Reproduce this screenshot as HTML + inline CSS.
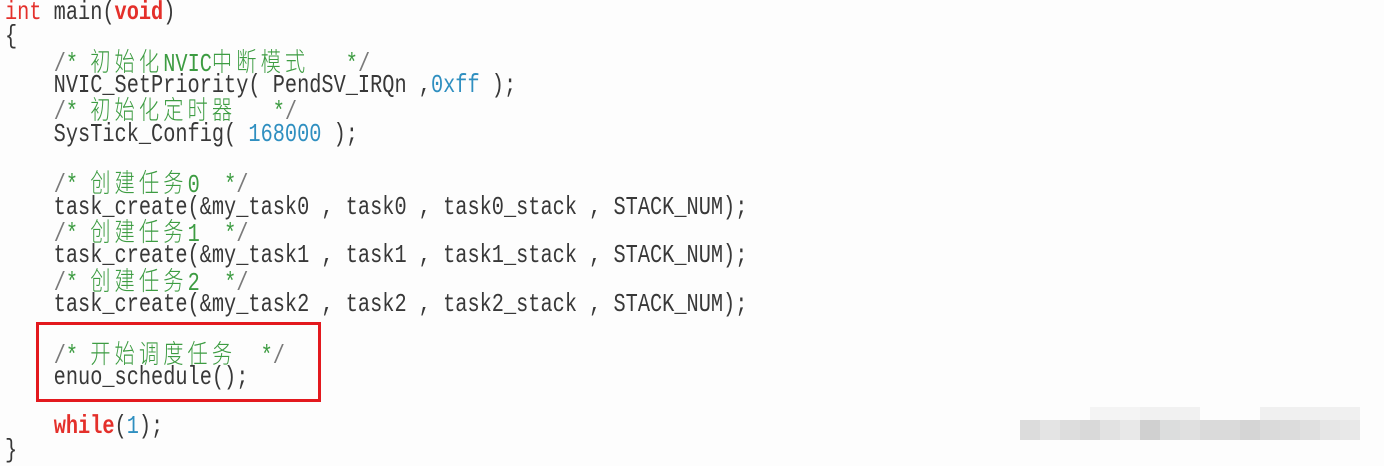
<!DOCTYPE html>
<html>
<head>
<meta charset="utf-8">
<style>
  html, body { margin:0; padding:0; }
  body { width:1384px; height:466px; background:#fdfdfd; position:relative; overflow:hidden; }
  .ln { position:absolute; left:5px; height:24.33px; line-height:24.33px; font-family:"Liberation Mono", monospace; font-size:26px; white-space:pre; color:#383838; transform:scaleX(0.78); transform-origin:0 0; }
  .r { color:#e4302b; }
  .rb { color:#e4302b; font-weight:bold; }
  .g { color:#3d9c42; }
  .s { color:#7a7a7a; }
  .n { color:#2f8fc0; }
  .c { font-family:"Noto Sans CJK SC", "WenQuanYi Zen Hei", sans-serif; font-size:26px; letter-spacing:5.2px; font-weight:300; }
  .box { position:absolute; left:36px; top:322px; width:279px; height:74px; border:3px solid #e3191e; }
  .wm { position:absolute; height:20px; top:420px; width:20px; }
  .wu { position:absolute; height:13px; top:407px; }
</style>
</head>
<body>
<div class="ln" style="top:0px"><span class="r">int</span> main(<span class="rb">void</span>)</div>
<div class="ln" style="top:24.33px">{</div>
<div class="ln" style="top:48.67px">    <span class="g"><span class="s">/</span>* <span class="c">初始化</span>NVIC<span class="c">中断模式</span>   *<span class="s">/</span></span></div>
<div class="ln" style="top:73px">    NVIC_SetPriority( PendSV_IRQn ,<span class="n">0xff</span> );</div>
<div class="ln" style="top:97.33px">    <span class="g"><span class="s">/</span>* <span class="c">初始化定时器</span>   *<span class="s">/</span></span></div>
<div class="ln" style="top:121.67px">    SysTick_Config( <span class="n">168000</span> );</div>
<div class="ln" style="top:170.33px">    <span class="g"><span class="s">/</span>* <span class="c">创建任务</span>0  *<span class="s">/</span></span></div>
<div class="ln" style="top:194.67px">    task_create(&amp;my_task0 , task0 , task0_stack , STACK_NUM);</div>
<div class="ln" style="top:219px">    <span class="g"><span class="s">/</span>* <span class="c">创建任务</span>1  *<span class="s">/</span></span></div>
<div class="ln" style="top:243.33px">    task_create(&amp;my_task1 , task1 , task1_stack , STACK_NUM);</div>
<div class="ln" style="top:267.67px">    <span class="g"><span class="s">/</span>* <span class="c">创建任务</span>2  *<span class="s">/</span></span></div>
<div class="ln" style="top:292px">    task_create(&amp;my_task2 , task2 , task2_stack , STACK_NUM);</div>
<div class="ln" style="top:340.67px">    <span class="g"><span class="s">/</span>* <span class="c">开始调度任务</span>  *<span class="s">/</span></span></div>
<div class="ln" style="top:365px">    enuo_schedule();</div>
<div class="ln" style="top:413.67px">    <span class="rb">while</span>(<span class="n">1</span>);</div>
<div class="ln" style="top:438px">}</div>

<div class="box"></div>

<!-- pixelated watermark -->
<div class="wu" style="left:1090px;width:50px;background:#f4f4f4"></div>
<div class="wu" style="left:1140px;width:60px;background:#f1f1f1"></div>
<div class="wu" style="left:1260px;width:100px;background:#f0f0f0"></div>
<div class="wm" style="left:1020px;background:#dcdcdc"></div>
<div class="wm" style="left:1040px;background:#e4e4e4"></div>
<div class="wm" style="left:1060px;background:#dddddd"></div>
<div class="wm" style="left:1080px;background:#d9d9d9"></div>
<div class="wm" style="left:1100px;background:#e2e2e2"></div>
<div class="wm" style="left:1120px;background:#e8e8e8"></div>
<div class="wm" style="left:1140px;background:#d0d0d0"></div>
<div class="wm" style="left:1160px;background:#dcdddd"></div>
<div class="wm" style="left:1180px;background:#e0e0e0"></div>
<div class="wm" style="left:1200px;background:#dadada"></div>
<div class="wm" style="left:1220px;background:#dadada"></div>
<div class="wm" style="left:1240px;background:#d5d5d5"></div>
<div class="wm" style="left:1260px;background:#dadada"></div>
<div class="wm" style="left:1280px;background:#dcdcdc"></div>
<div class="wm" style="left:1300px;background:#e0e0e0"></div>
<div class="wm" style="left:1320px;background:#e6e6e6"></div>
<div class="wm" style="left:1340px;background:#e8e8e8"></div>
</body>
</html>
